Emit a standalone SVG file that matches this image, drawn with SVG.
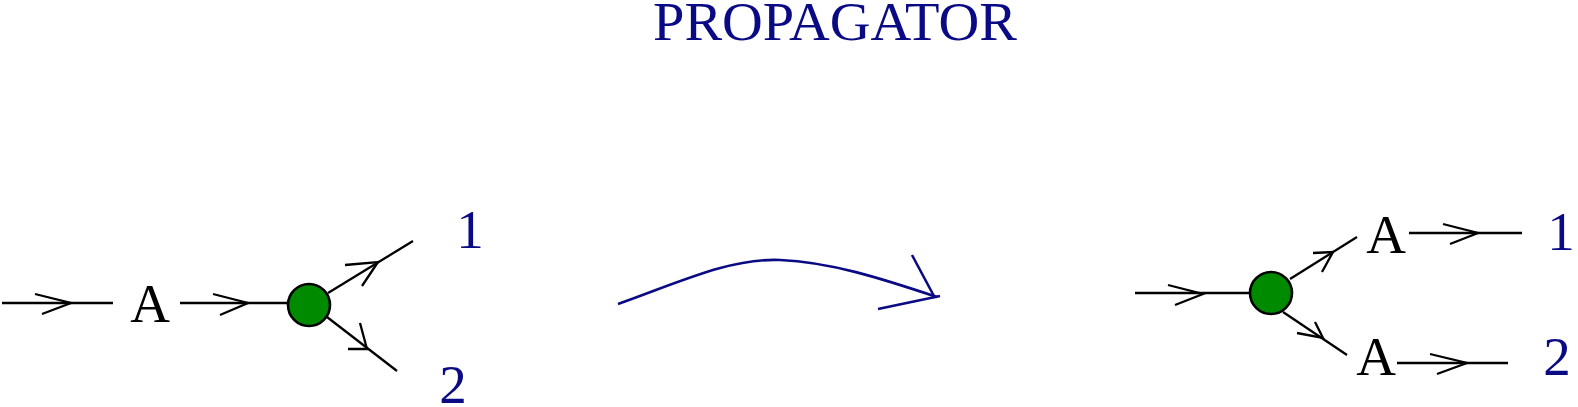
<svg xmlns="http://www.w3.org/2000/svg" width="1578" height="407" viewBox="0 0 1578 407">
<style>
.ln{stroke:#000;stroke-width:2.3;fill:none}
.nav{stroke:#0a0a85;stroke-width:2.6;fill:none}
.vtx{fill:#008a00;stroke:#000;stroke-width:2.6}
.blk{font-family:"Liberation Serif",serif;font-size:55px;fill:#000;text-anchor:middle}
.blu{font-family:"Liberation Serif",serif;font-size:55px;fill:#0a0a85;text-anchor:middle}
</style>
<rect width="1578" height="407" fill="#fff"/>
<g id="title"><text x="835" y="40" class="blu" font-size="54" textLength="364" lengthAdjust="spacingAndGlyphs">PROPAGATOR</text></g>
<g id="connectors">
<line class="ln" x1="2" y1="303" x2="113" y2="303"/>
<polyline class="ln" points="35,294 71,303 42,314"/>
<line class="ln" x1="180" y1="303" x2="288" y2="303"/>
<polyline class="ln" points="213,294 248,303 220,315"/>
<line class="ln" x1="328" y1="293" x2="413" y2="241"/>
<polyline class="ln" points="345,265 378,262 362,286"/>
<line class="ln" x1="327" y1="317" x2="397" y2="371"/>
<polyline class="ln" points="360,323 367,349 348,349"/>
<path class="nav" d="M618,304 C680,282 730,258 780,260 C830,262 880,278 937,297"/>
<line class="nav" x1="912" y1="255" x2="935" y2="298"/>
<line class="nav" x1="878" y1="309" x2="940" y2="296"/>
<line class="ln" x1="1135" y1="293" x2="1250" y2="293"/>
<polyline class="ln" points="1168,285 1203,294 1175,305"/>
<line class="ln" x1="1290" y1="279" x2="1357" y2="237"/>
<polyline class="ln" points="1313,253 1333,252 1322,272"/>
<line class="ln" x1="1283" y1="312" x2="1347" y2="355"/>
<polyline class="ln" points="1297,333 1323,338 1315,322"/>
<line class="ln" x1="1409" y1="233" x2="1522" y2="233"/>
<polyline class="ln" points="1443,224 1478,233 1450,244"/>
<line class="ln" x1="1397" y1="363" x2="1508" y2="363"/>
<polyline class="ln" points="1430,354 1467,363 1437,374"/>
</g>
<g id="A-left"><text x="150" y="322" class="blk">A</text></g>
<g id="vertex-left"><circle class="vtx" cx="309" cy="305" r="21"/></g>
<g id="label-1-left"><text x="470" y="248" class="blu">1</text></g>
<g id="label-2-left"><text x="453" y="403" class="blu">2</text></g>
<g id="vertex-right"><circle class="vtx" cx="1271" cy="293" r="21"/></g>
<g id="A-right-1"><text x="1386" y="253" class="blk">A</text></g>
<g id="A-right-2"><text x="1376" y="375" class="blk">A</text></g>
<g id="label-1-right"><text x="1561" y="250" class="blu">1</text></g>
<g id="label-2-right"><text x="1557" y="375" class="blu">2</text></g>
</svg>
